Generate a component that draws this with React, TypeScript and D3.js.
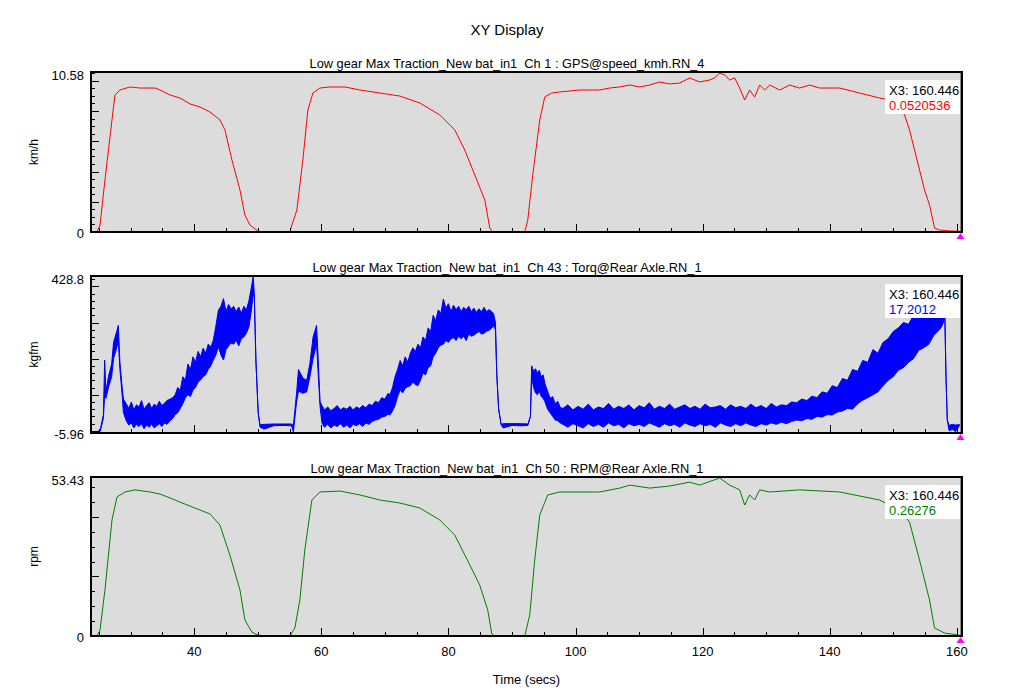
import React from "react";
import * as d3 from "d3";

// ---------- data ----------
const chartTitle = "XY Display";
const xAxisTitle = "Time (secs)";
const panelTitles = [
  "Low gear Max Traction_New bat_in1  Ch 1 : GPS@speed_kmh.RN_4",
  "Low gear Max Traction_New bat_in1  Ch 43 : Torq@Rear Axle.RN_1",
  "Low gear Max Traction_New bat_in1  Ch 50 : RPM@Rear Axle.RN_1",
];
const unitLabels = ["km/h", "kgfm", "rpm"];
const yMinLabels = ["0", "-5.96", "0"];
const yMaxLabels = ["10.58", "428.8", "53.43"];
const yDomains: [number, number][] = [[0, 10.58], [-5.96, 428.8], [0, 53.43]];
const yMajorSteps = [2, 100, 20];
const yMinorSteps = [0.5, 20, 5];
const xDomain: [number, number] = [23.75, 160.82];
const xTickLabels = [40, 60, 80, 100, 120, 140, 160];
const xMinorStep = 5;
const cursorTime = 160.446;
const cursorLabel = "X3: 160.446";
const cursorValues = ["0.0520536", "17.2012", "0.26276"];

const speedTime = [24.69, 25.17, 25.95, 27.05, 27.52, 28.31, 29.88, 31.46, 33.82, 34.6, 36.18, 37.75, 39.32, 40.89, 42.47, 44.04, 44.83, 45.93, 47.19, 47.97, 48.76, 50.02, 50.65, 55.05, 55.36, 56.15, 57.09, 57.88, 58.67, 59.77, 61.34, 63.7, 66.06, 69.2, 72.35, 75.5, 78.64, 81.0, 82.57, 84.15, 85.72, 86.51, 86.98, 92.01, 92.48, 93.27, 94.37, 95.16, 96.26, 97.52, 100.66, 103.81, 105.38, 106.95, 108.53, 110.1, 111.67, 113.24, 114.82, 116.39, 117.96, 119.54, 121.11, 121.9, 122.68, 123.47, 124.26, 125.04, 125.83, 126.62, 127.4, 128.19, 128.98, 129.76, 130.55, 132.12, 133.69, 135.26, 136.84, 138.41, 141.56, 144.7, 147.85, 149.42, 150.99, 151.78, 152.56, 153.35, 154.14, 154.92, 155.71, 156.5, 157.28, 158.86, 160.45];
const speedVals = [0, 0.46, 3.44, 7.41, 9.06, 9.39, 9.59, 9.52, 9.52, 9.39, 9.06, 8.86, 8.47, 8.27, 7.94, 7.41, 6.75, 4.76, 2.78, 1.12, 0.46, 0.07, 0, 0, 0.46, 1.46, 4.76, 8.07, 9.19, 9.52, 9.59, 9.59, 9.39, 9.19, 8.99, 8.53, 7.74, 6.75, 5.42, 3.77, 2.12, 0.26, 0, 0, 0.79, 3.77, 7.41, 8.93, 9.19, 9.26, 9.39, 9.39, 9.52, 9.59, 9.72, 9.59, 9.72, 9.92, 9.79, 9.85, 10.19, 9.92, 10.05, 10.19, 10.52, 10.38, 10.05, 10.19, 9.52, 8.73, 9.39, 8.93, 9.72, 9.39, 9.72, 9.39, 9.72, 9.52, 9.72, 9.52, 9.52, 9.19, 8.86, 8.73, 8.2, 7.74, 6.75, 5.42, 4.1, 2.78, 1.79, 0.26, 0.13, 0.07, 0.05];

const rpmTime = [24.69, 25.17, 25.95, 27.05, 27.84, 29.1, 30.67, 33.03, 34.6, 36.18, 37.75, 40.11, 42.47, 44.04, 45.61, 47.19, 47.97, 49.07, 50.02, 50.65, 55.05, 55.83, 56.62, 57.4, 58.51, 59.77, 62.91, 66.06, 69.2, 72.35, 75.5, 78.64, 81.0, 83.36, 84.93, 86.19, 86.82, 87.29, 92.01, 92.8, 93.58, 94.37, 95.63, 97.52, 103.81, 106.95, 108.53, 111.67, 114.82, 117.96, 119.54, 122.68, 124.26, 125.83, 126.62, 127.4, 128.19, 128.98, 130.55, 135.26, 141.56, 147.85, 150.99, 152.56, 154.14, 155.71, 156.5, 158.07, 160.45];
const rpmVals = [0, 2.0, 15.5, 39.0, 46.7, 48.4, 49.1, 48.4, 47.7, 46.4, 45.0, 43.0, 41.0, 37.3, 27.2, 15.5, 5.4, 1.3, 0.3, 0, 0, 2.7, 12.1, 28.9, 45.7, 48.4, 48.7, 47.4, 45.7, 44.7, 43.0, 39.0, 33.9, 23.9, 17.1, 8.7, 0.7, 0, 0, 7.1, 25.5, 40.7, 47.4, 48.4, 48.4, 49.7, 50.7, 49.7, 50.4, 51.7, 50.7, 53.1, 50.7, 49.1, 44.0, 47.4, 45.7, 49.1, 48.4, 49.1, 48.4, 45.7, 42.3, 38.3, 25.5, 12.1, 2.7, 1.0, 0.26];

// torque: [time, min, max] envelope of the dense signal
const torqueEnvelope: [number, number, number][] = [
  [24.7, -3, -3], [25.2, -1, 2], [25.7, 35, 45], [25.9, 100, 196], [26.1, 90, 110], [26.5, 120, 150],
  [27.0, 150, 185], [27.3, 200, 245], [27.8, 230, 275], [28.05, 250, 292], [28.3, 170, 190],
  [28.6, 110, 130], [28.85, 50, 88],
  [29.3, 28, 75], [29.7, 16, 62], [30.1, 22, 80], [30.5, 8, 58], [30.9, 18, 72], [31.3, 12, 66],
  [31.7, 20, 84], [32.1, 6, 60], [32.5, 16, 70], [32.9, 10, 78], [33.3, 18, 62], [33.7, 8, 74],
  [34.1, 14, 68], [34.5, 20, 82], [34.9, 12, 70], [35.3, 22, 76], [35.7, 18, 84], [36.2, 28, 88],
  [36.6, 34, 92], [37.0, 45, 100], [37.4, 50, 120], [37.8, 62, 112], [38.2, 75, 150], [38.6, 92, 140],
  [39.0, 100, 185], [39.4, 95, 170], [39.8, 113, 205], [40.2, 120, 190], [40.6, 135, 220],
  [41.0, 141, 205], [41.4, 150, 229], [41.8, 155, 215], [42.2, 170, 240], [42.6, 180, 232],
  [43.0, 196, 251], [43.4, 210, 290], [43.8, 233, 334], [44.2, 210, 345], [44.6, 196, 366],
  [45.0, 225, 330], [45.4, 235, 350], [45.8, 243, 338], [46.2, 240, 345], [46.6, 251, 330],
  [47.0, 235, 343], [47.4, 255, 325], [47.8, 260, 345], [48.2, 270, 335], [48.6, 288, 360],
  [49.0, 334, 398], [49.28, 380, 428], [49.45, 370, 380], [49.7, 196, 196], [50.06, 50, 50],
  [50.35, 10, 17], [51.0, 5, 18], [52.5, 14, 19], [54.0, 15, 19], [55.3, 14, 19], [55.6, -3, 15],
  [56.1, 80, 104], [56.4, 110, 170], [57.1, 104, 146], [57.7, 108, 140], [58.2, 150, 187],
  [58.7, 200, 260], [59.25, 240, 292], [59.5, 160, 200], [59.8, 67, 80],
  [60.1, 22, 70], [60.5, 10, 58], [61.0, 18, 66], [61.5, 8, 56], [62.0, 16, 62], [62.5, 12, 70],
  [63.0, 20, 58], [63.5, 10, 64], [64.0, 16, 60], [64.5, 8, 68], [65.0, 18, 58], [65.5, 14, 66],
  [66.0, 20, 62], [66.5, 12, 70], [67.0, 22, 64], [67.5, 18, 74], [68.0, 26, 70], [68.5, 30, 82],
  [69.0, 32, 78], [69.5, 38, 92], [70.0, 40, 88], [70.5, 46, 104], [70.8, 44, 100],
  [71.2, 55, 120], [71.6, 70, 150], [72.0, 95, 170], [72.4, 113, 195], [72.8, 105, 180],
  [73.2, 118, 205], [73.6, 122, 190], [74.0, 125, 215], [74.4, 135, 230], [74.8, 128, 220],
  [75.2, 125, 240], [75.6, 140, 230], [76.0, 160, 260], [76.4, 155, 250], [76.8, 175, 285],
  [77.2, 180, 275], [77.6, 205, 320], [78.0, 215, 305], [78.4, 230, 335], [78.8, 237, 325],
  [79.2, 240, 365], [79.6, 250, 340], [80.0, 245, 352], [80.4, 255, 330], [80.8, 258, 348],
  [81.2, 250, 335], [81.6, 262, 345], [82.0, 255, 330], [82.4, 262, 342], [82.8, 250, 335],
  [83.2, 268, 345], [83.6, 262, 330], [84.0, 265, 340], [84.4, 270, 328], [84.8, 275, 338],
  [85.2, 268, 330], [85.6, 270, 342], [86.0, 276, 330], [86.4, 278, 336], [86.8, 285, 330],
  [87.1, 290, 325], [87.4, 280, 300], [87.6, 160, 160], [87.9, 60, 60], [88.3, 17, 17],
  [88.6, 8, 20], [90.0, 15, 20], [91.5, 14, 20], [92.5, 15, 19], [92.9, 40, 40],
  [93.1, 150, 180], [93.4, 120, 165], [93.7, 105, 172], [94.0, 100, 160], [94.3, 110, 168],
  [94.6, 95, 150], [94.9, 90, 155], [95.2, 80, 130], [95.6, 60, 110], [96.0, 50, 90],
  [96.4, 40, 95], [96.8, 30, 75], [97.2, 28, 82], [97.6, 22, 65],
  [98.0, 18, 62], [98.8, 10, 72], [99.6, 20, 58], [100.4, 14, 68], [101.2, 8, 60], [102.0, 20, 74],
  [102.8, 12, 58], [103.6, 18, 66], [104.4, 10, 62], [105.2, 22, 76], [106.0, 14, 60], [106.8, 18, 68],
  [107.6, 8, 62], [108.4, 20, 72], [109.2, 14, 58], [110.0, 18, 70], [110.8, 12, 64], [111.6, 22, 78],
  [112.4, 16, 60], [113.2, 10, 68], [114.0, 20, 62], [114.8, 14, 74], [115.6, 18, 60], [116.4, 10, 66],
  [117.2, 22, 72], [118.0, 16, 62], [118.8, 12, 68], [119.6, 20, 60], [120.4, 14, 74], [121.2, 18, 64],
  [122.0, 10, 66], [122.8, 22, 70], [123.6, 16, 60], [124.4, 12, 72], [125.2, 20, 64], [126.0, 14, 68],
  [126.8, 22, 62], [127.6, 16, 74], [128.4, 12, 64], [129.2, 20, 70], [130.0, 16, 62], [130.8, 22, 76],
  [131.6, 18, 66], [132.4, 24, 72], [133.2, 20, 70], [134.0, 26, 80],
  [134.8, 30, 78], [135.6, 28, 88], [136.4, 34, 84], [137.2, 32, 96], [138.0, 40, 92], [138.8, 38, 108],
  [139.6, 45, 104], [140.4, 44, 125], [141.2, 52, 120], [142.0, 55, 145], [142.8, 62, 140],
  [143.6, 60, 170], [144.4, 75, 165], [145.2, 85, 195], [146.0, 92, 190], [146.8, 100, 225],
  [147.6, 108, 215], [148.4, 125, 245], [149.2, 140, 255], [150.0, 150, 275], [150.8, 168, 285],
  [151.6, 175, 300], [152.4, 190, 295], [153.2, 200, 320], [154.0, 223, 315], [154.8, 230, 340],
  [155.6, 240, 335], [156.4, 265, 355], [157.0, 275, 345], [157.5, 285, 360], [157.9, 300, 365],
  [158.1, 330, 350], [158.3, 150, 150], [158.5, 30, 30], [158.8, 0, 15], [159.3, 4, 18],
  [159.8, -2, 16], [160.2, 8, 17], [160.45, 17, 17],
];

// ---------- layout ----------
const W = 1014;
const H = 691;
const LEFT = 91;
const RIGHT = 962;
const panelTops = [72, 276, 477];
const panelBottoms = [232, 433, 636];
const colors = ["#ff0000", "#0000ff", "#008000"];
const FONT = "'Liberation Sans', Arial, Helvetica, sans-serif";

export default function App() {
  const x = d3.scaleLinear().domain(xDomain).range([LEFT, RIGHT]);
  const speedData = speedTime.map((t, i) => [t, speedVals[i]] as [number, number]);
  const rpmData = rpmTime.map((t, i) => [t, rpmVals[i]] as [number, number]);

  const xMinor = d3.range(25, 161, xMinorStep);
  const cx = Math.round(x(cursorTime)) + 0.5;

  const panels = [0, 1, 2].map((p) => {
    const top = panelTops[p];
    const bottom = panelBottoms[p];
    const y = d3.scaleLinear().domain(yDomains[p]).range([bottom, top]);
    const [d0, d1] = yDomains[p];
    const minorTicks = d3.range(Math.ceil(d0 / yMinorSteps[p]) * yMinorSteps[p], d1 + 1e-9, yMinorSteps[p]);
    let mark: React.ReactNode = null;
    if (p === 1) {
      const area = d3
        .area<[number, number, number]>()
        .x((d) => x(d[0]))
        .y0((d) => y(d[1]))
        .y1((d) => y(d[2]));
      mark = (
        <path d={area(torqueEnvelope) || ""} fill={colors[1]} stroke={colors[1]} strokeWidth={1} strokeLinejoin="miter" />
      );
    } else {
      const line = d3
        .line<[number, number]>()
        .x((d) => x(d[0]))
        .y((d) => y(d[1]));
      mark = <path d={line(p === 0 ? speedData : rpmData) || ""} fill="none" stroke={colors[p]} strokeWidth={1} />;
    }
    return (
      <g key={p}>
        <text x={507} y={top - 4} textAnchor="middle" fontSize={12.8} fontFamily={FONT} fill="#000" style={{ whiteSpace: "pre" }}>
          {panelTitles[p]}
        </text>
        <defs>
          <clipPath id={`clip${p}`}>
            <rect x={LEFT} y={top} width={RIGHT - LEFT} height={bottom - top} />
          </clipPath>
        </defs>
        <rect x={LEFT} y={top} width={RIGHT - LEFT} height={bottom - top} fill="#dcdcdc" />
        <g clipPath={`url(#clip${p})`}>{mark}</g>
        {/* cursor */}
        <line x1={cx} x2={cx} y1={top} y2={bottom} stroke="#8c8c8c" strokeWidth={1} shapeRendering="crispEdges" />
        {/* y ticks */}
        {minorTicks.map((v, i) => {
          const isMajor = Math.abs(v / yMajorSteps[p] - Math.round(v / yMajorSteps[p])) < 1e-6;
          const yy = Math.round(y(v)) + 0.5;
          return (
            <line key={i} x1={LEFT} x2={LEFT + (isMajor ? 8 : 4)} y1={yy} y2={yy} stroke="#000" strokeWidth={1} shapeRendering="crispEdges" />
          );
        })}
        {/* x ticks */}
        {xMinor.map((v, i) => {
          const isMajor = v % 20 === 0;
          const xx = Math.round(x(v)) + 0.5;
          return (
            <line key={i} x1={xx} x2={xx} y1={bottom} y2={bottom - (isMajor ? 8 : 4)} stroke="#000" strokeWidth={1} shapeRendering="crispEdges" />
          );
        })}
        {/* frame */}
        <rect x={LEFT} y={top} width={RIGHT - LEFT} height={bottom - top} fill="none" stroke="#000" strokeWidth={2} shapeRendering="crispEdges" />
        {/* y labels */}
        <text x={84} y={top + 7.5} textAnchor="end" fontSize={13} fontFamily={FONT}>
          {yMaxLabels[p]}
        </text>
        <text x={84} y={bottom + 5.5} textAnchor="end" fontSize={13} fontFamily={FONT}>
          {yMinLabels[p]}
        </text>
        <text
          transform={`translate(38,${(top + bottom) / 2}) rotate(-90)`}
          textAnchor="middle"
          fontSize={12}
          fontFamily={FONT}
        >
          {unitLabels[p]}
        </text>
        {/* cursor box */}
        <rect x={885} y={top + 8} width={cx - 885 - 0.5} height={34} fill="#ffffff" />
        <text x={889} y={top + 23} fontSize={13} fontFamily={FONT} fill="#000">
          {cursorLabel}
        </text>
        <text x={889} y={top + 37.5} fontSize={13} fontFamily={FONT} fill={colors[p]}>
          {cursorValues[p]}
        </text>
        {/* magenta marker */}
        <path d={`M${cx},${bottom + 1} L${cx + 4},${bottom + 7} L${cx - 4},${bottom + 7} Z`} fill="#ff00ff" />
      </g>
    );
  });

  return (
    <svg width={W} height={H} style={{ position: "absolute", left: 0, top: 0, background: "#fff" }}>
      <rect x={0} y={0} width={W} height={H} fill="#ffffff" />
      <text x={507} y={35} textAnchor="middle" fontSize={15} fontFamily={FONT}>
        {chartTitle}
      </text>
      {panels}
      {xTickLabels.map((v) => (
        <text key={v} x={x(v)} y={656} textAnchor="middle" fontSize={13} fontFamily={FONT}>
          {v}
        </text>
      ))}
      <text x={(LEFT + RIGHT) / 2} y={684} textAnchor="middle" fontSize={13} fontFamily={FONT}>
        {xAxisTitle}
      </text>
    </svg>
  );
}
